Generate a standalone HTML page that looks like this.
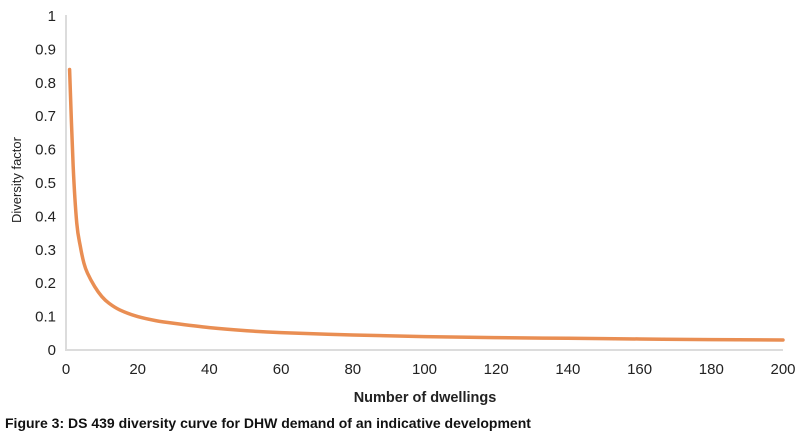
<!DOCTYPE html>
<html><head><meta charset="utf-8"><style>
body{margin:0;background:#fff;}
svg{display:block;font-family:"Liberation Sans",sans-serif;}
</style></head><body>
<svg width="803" height="441" viewBox="0 0 803 441">
<g id="axes">
<line x1="66" y1="15" x2="66" y2="350" stroke="#dcdcdc" stroke-width="2"/>
<line x1="65" y1="350" x2="783" y2="350" stroke="#dcdcdc" stroke-width="2"/>
</g>
<g id="yt"></g>
<g id="xt"></g>
<path id="curve" fill="none" stroke="#e8884a" stroke-width="3.5" stroke-linecap="round" opacity="0.95"/>
<text x="425" y="402" text-anchor="middle" font-size="14.5" font-weight="bold" fill="#222">Number of dwellings</text>
<text transform="translate(21,180) rotate(-90)" text-anchor="middle" font-size="13" fill="#222">Diversity factor</text>
<text x="5" y="428" font-size="14" font-weight="bold" fill="#111">Figure 3: DS 439 diversity curve for DHW demand of an indicative development</text>
</svg>
<script>
const dwellings=[1,2,3,4,5,6,8,10,12,15,20,25,30,40,50,60,80,100,120,140,160,180,200];
const factors=[0.84,0.55,0.38,0.31,0.26,0.23,0.19,0.16,0.14,0.12,0.10,0.088,0.08,0.067,0.058,0.052,0.045,0.04,0.037,0.035,0.033,0.031,0.03];
const yTicks=["0","0.1","0.2","0.3","0.4","0.5","0.6","0.7","0.8","0.9","1"];
const xTicks=[0,20,40,60,80,100,120,140,160,180,200];
const NS="http://www.w3.org/2000/svg";
function xs(n){return 66+n*(783-66)/200;}
function ys(v){return 350-v*334;}
const yt=document.getElementById('yt');
yTicks.forEach(t=>{const e=document.createElementNS(NS,'text');


e.setAttribute('x',56);e.setAttribute('y',ys(parseFloat(t))+5);e.setAttribute('text-anchor','end');e.setAttribute('font-size','15');e.setAttribute('fill','#222');e.textContent=t;yt.appendChild(e);});
const xt=document.getElementById('xt');
xTicks.forEach(t=>{const e=document.createElementNS(NS,'text');


e.setAttribute('x',xs(t));e.setAttribute('y',374);e.setAttribute('text-anchor','middle');e.setAttribute('font-size','15');e.setAttribute('fill','#222');e.textContent=t;xt.appendChild(e);});
const P=dwellings.map((n,i)=>[xs(n),ys(factors[i])]);
let d='M'+P[0][0]+','+P[0][1];
for(let i=0;i<P.length-1;i++){const p0=P[Math.max(i-1,0)],p1=P[i],p2=P[i+1],p3=P[Math.min(i+2,P.length-1)];
const c1=[p1[0]+(p2[0]-p0[0])/6,p1[1]+(p2[1]-p0[1])/6],c2=[p2[0]-(p3[0]-p1[0])/6,p2[1]-(p3[1]-p1[1])/6];
d+=' C'+c1+' '+c2+' '+p2;}
document.getElementById('curve').setAttribute('d',d);
</script>
</body></html>
